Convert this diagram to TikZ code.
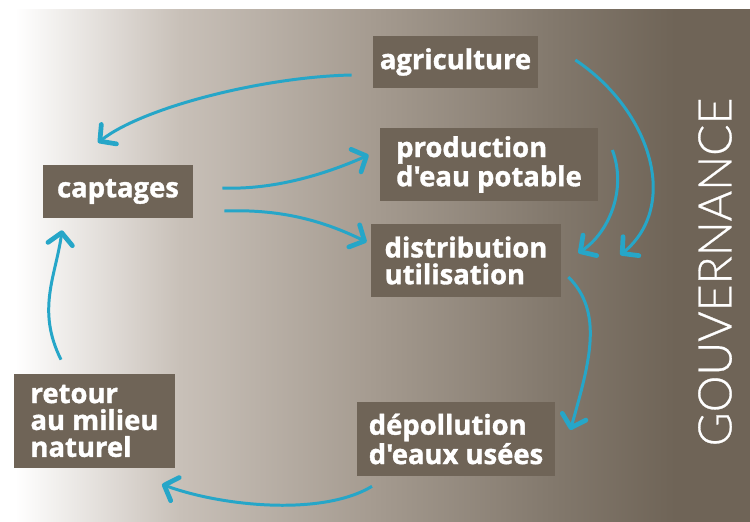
\documentclass[tikz,border=0pt]{standalone}
\usepackage{fontspec}
\newfontfamily\stagefont{Open Sans}[BoldFeatures={FakeBold=1.3}]
\newfontfamily\govfont{Lato Light}[FakeBold=0.6]
\usetikzlibrary{arrows.meta,positioning}
\definecolor{taupe}{RGB}{111,100,87}
\definecolor{flow}{RGB}{38,166,200}
\definecolor{bgone}{RGB}{200,192,184}
\definecolor{bgtwo}{RGB}{166,156,145}
\definecolor{bgthree}{RGB}{130,120,108}
\pgfdeclarehorizontalshading{fade}{100bp}{color(0bp)=(white); color(26bp)=(white); color(37bp)=(bgone); color(49.5bp)=(bgtwo); color(62bp)=(bgthree); color(70bp)=(taupe); color(100bp)=(taupe)}
\begin{document}
\begin{tikzpicture}[x=0.2mm,y=-0.2mm,
	stage/.style={fill=taupe,text=white,font=\stagefont\bfseries\fontsize{15.6}{15.3}\selectfont,align=left,inner sep=0pt},
	flowarrow/.style={draw=flow,line width=1.7pt,-{Straight Barb[length=6.5pt,width=14pt,line width=2.7pt,round]}}]
		\useasboundingbox (0,0) rectangle (750,522);
		\shade[shading=fade] (0,10) rectangle (750,522);
		\node[stage,minimum width=33mm,minimum height=10.4mm](agri) at (455.5,62){agriculture};
		\node[stage,minimum width=43.6mm,minimum height=14.6mm,below of=agri,node distance=20.5mm,xshift=6.7mm](prod){production\\d'eau potable};
		\node[stage,minimum width=38mm,minimum height=14.6mm,below of=prod,node distance=19.2mm,xshift=-4.6mm](distr){distribution\\utilisation};
		\node[stage,minimum width=39.6mm,minimum height=14.8mm,below of=distr,node distance=35.7mm,xshift=-2mm](depol){dépollution\\d'eaux usées};
		\node[stage,minimum width=30mm,minimum height=10.6mm,left of=prod,node distance=74.2mm,yshift=-5.4mm](capt){captages};
		\node[stage,minimum width=32.2mm,minimum height=18.8mm,below of=capt,node distance=45.9mm,xshift=-4.7mm](retour){retour\\au milieu\\naturel};
		\node[rotate=90,text=white,font=\govfont\fontsize{26.4}{28}\selectfont](gov) at (715,272){GOUVERNANCE};
		\draw[flowarrow] ([shift={(-21,13)}]agri.west) .. controls +(-90,2) and +(45,-35) .. ([shift={(-20,-22)}]capt.north);
		\draw[flowarrow] ([shift={(29,-3.5)}]capt.east) .. controls +(50,2) and +(-45,20) .. ([shift={(-11,-9.5)}]prod.west);
		\draw[flowarrow] ([shift={(31,19.5)}]capt.east) .. controls +(55,-2) and +(-45,-22) .. ([shift={(-4,-18.5)}]distr.west);
		\draw[flowarrow] ([shift={(37,-2)}]agri.east) .. controls +(75,50) and +(60,-50) .. ([shift={(59,-5.5)}]distr.east);
		\draw[flowarrow] ([shift={(14,-14.5)}]prod.east) .. controls +(15,40) and +(30,-20) .. ([shift={(17,-7.5)}]distr.east);
		\draw[flowarrow] ([shift={(7,16.5)}]distr.east) .. controls +(35,35) and +(20,-70) .. ([shift={(15,-9)}]depol.east);
		\draw[flowarrow] ([shift={(-84,10)}]depol.south) .. controls +(-50,30) and +(60,22) .. ([shift={(67.5,16)}]retour.south);
		\draw[flowarrow] ([shift={(-33.5,-14)}]retour.north) .. controls +(-25,-50) and +(-6,45) .. ([shift={(-56,12)}]capt.south);
\end{tikzpicture}
\end{document}
